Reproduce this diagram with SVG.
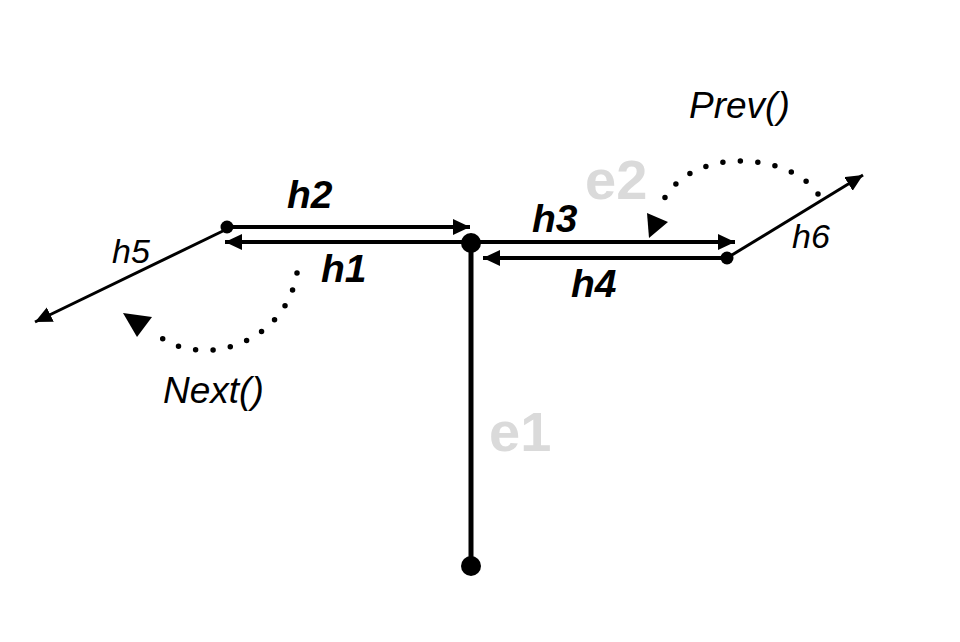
<svg xmlns="http://www.w3.org/2000/svg" width="960" height="642" viewBox="0 0 960 642">
<style>
.bl{font-family:"Liberation Sans",Arial,sans-serif;font-weight:bold;font-style:italic;font-size:39px;fill:#000}
.lt{font-family:"Liberation Sans",Arial,sans-serif;font-style:italic;font-size:34px;fill:#000}
.fn{font-family:"Liberation Sans",Arial,sans-serif;font-style:italic;font-size:37px;fill:#000}
.eg{font-family:"Liberation Sans",Arial,sans-serif;font-weight:bold;font-size:56px;fill:#dadada}
.e{stroke:#000;fill:none;stroke-width:4}
.t{stroke:#000;fill:none;stroke-width:3}
.dot{stroke:#000;fill:none;stroke-width:5.5;stroke-linecap:round;stroke-dasharray:0 17.5}
</style>
<defs>
<marker id="ah" markerUnits="userSpaceOnUse" markerWidth="20" markerHeight="18" refX="17" refY="8" orient="auto">
<path d="M0,0 L17,8 L0,16 Z" fill="#000"/>
</marker>
</defs>
<rect width="960" height="642" fill="#fff"/>
<text class="eg" x="585" y="199">e2</text>
<text class="eg" x="489" y="451">e1</text>
<g id="connectors">
<line class="e" x1="471" y1="243" x2="471" y2="566" style="stroke-width:5"/>
<line class="e" x1="227" y1="227" x2="470" y2="227" marker-end="url(#ah)"/>
<line class="e" x1="471" y1="242" x2="225" y2="242" marker-end="url(#ah)"/>
<line class="e" x1="471" y1="242" x2="735" y2="242" marker-end="url(#ah)"/>
<line class="e" x1="727" y1="258" x2="483" y2="258" marker-end="url(#ah)"/>
<line class="t" x1="227" y1="229" x2="35" y2="322" marker-end="url(#ah)"/>
<line class="t" x1="727" y1="258" x2="863" y2="175" marker-end="url(#ah)"/>
<path class="dot" d="M297,273 C285,345 200,370 156,334"/>
<polygon points="123,313 152,317 137,337" fill="#000"/>
<path class="dot" d="M818,194 C790,152 690,145 662,203"/>
<polygon points="649,238 647,213 668,222" fill="#000"/>
</g>
<g id="v1"><circle cx="227" cy="227" r="6.5" fill="#000"/></g>
<g id="v2"><circle cx="471" cy="243" r="10" fill="#000"/></g>
<g id="v3"><circle cx="727" cy="258" r="6.5" fill="#000"/></g>
<g id="v4"><circle cx="471" cy="566" r="10" fill="#000"/></g>
<g id="labels">
<text class="bl" x="287" y="208">h2</text>
<text class="bl" x="321" y="282">h1</text>
<text class="bl" x="532" y="232">h3</text>
<text class="bl" x="571" y="297">h4</text>
<text class="lt" x="112" y="263">h5</text>
<text class="lt" x="792" y="248">h6</text>
<text class="fn" x="163" y="403">Next()</text>
<text class="fn" x="689" y="118">Prev()</text>
</g>
</svg>
